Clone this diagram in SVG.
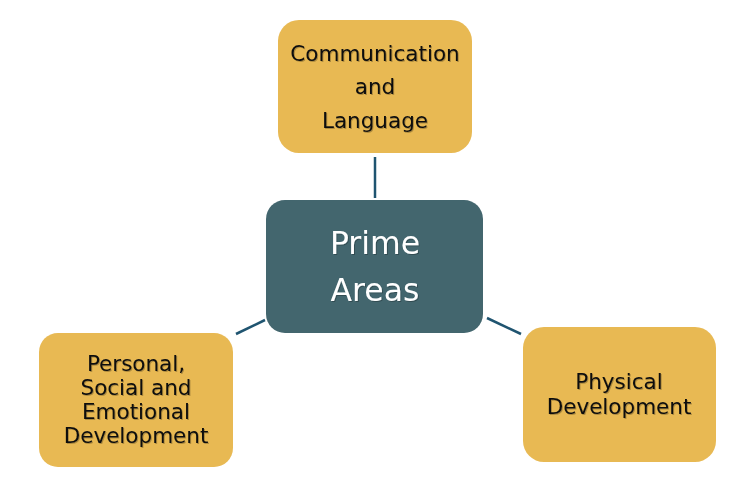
<svg xmlns="http://www.w3.org/2000/svg" width="744" height="486" viewBox="0 0 744 486">
<defs>
<filter id="ts" x="-10%" y="-10%" width="120%" height="130%">
<feDropShadow dx="1" dy="1" stdDeviation="0.7" flood-color="#000" flood-opacity="0.25"/>
</filter>
</defs>
<style>
.gold{fill:#E8B953;}
.teal{fill:#43666E;}
.lbl{font-family:"DejaVu Sans","Liberation Sans",sans-serif;font-size:21.5px;fill:#111;text-anchor:middle;filter:url(#ts);}
.big{font-family:"DejaVu Sans","Liberation Sans",sans-serif;font-size:31.5px;fill:#fff;text-anchor:middle;filter:url(#ts);}
.con{stroke:#1F5470;stroke-width:2.5;fill:none;}
</style>
<rect width="744" height="486" fill="#fff"/>
<g id="connectors">
<line class="con" x1="375" y1="157" x2="375" y2="198"/>
<line class="con" x1="236" y1="334" x2="265" y2="320"/>
<line class="con" x1="487" y1="318" x2="521" y2="334"/>
</g>
<g id="comm">
<rect class="gold" x="278" y="20" width="194" height="133" rx="21"/>
<text class="lbl" x="375" y="61">Communication</text>
<text class="lbl" x="375" y="94">and</text>
<text class="lbl" x="375" y="128">Language</text>
</g>
<g id="prime">
<rect class="teal" x="266" y="200" width="217" height="133" rx="19"/>
<text class="big" x="375" y="254">Prime</text>
<text class="big" x="375" y="301">Areas</text>
</g>
<g id="pse">
<rect class="gold" x="39" y="333" width="194" height="134" rx="19"/>
<text class="lbl" x="136" y="371">Personal,</text>
<text class="lbl" x="136" y="395">Social and</text>
<text class="lbl" x="136" y="419">Emotional</text>
<text class="lbl" x="136" y="443">Development</text>
</g>
<g id="phys">
<rect class="gold" x="523" y="327" width="193" height="135" rx="21"/>
<text class="lbl" x="619" y="389">Physical</text>
<text class="lbl" x="619" y="414">Development</text>
</g>
</svg>
